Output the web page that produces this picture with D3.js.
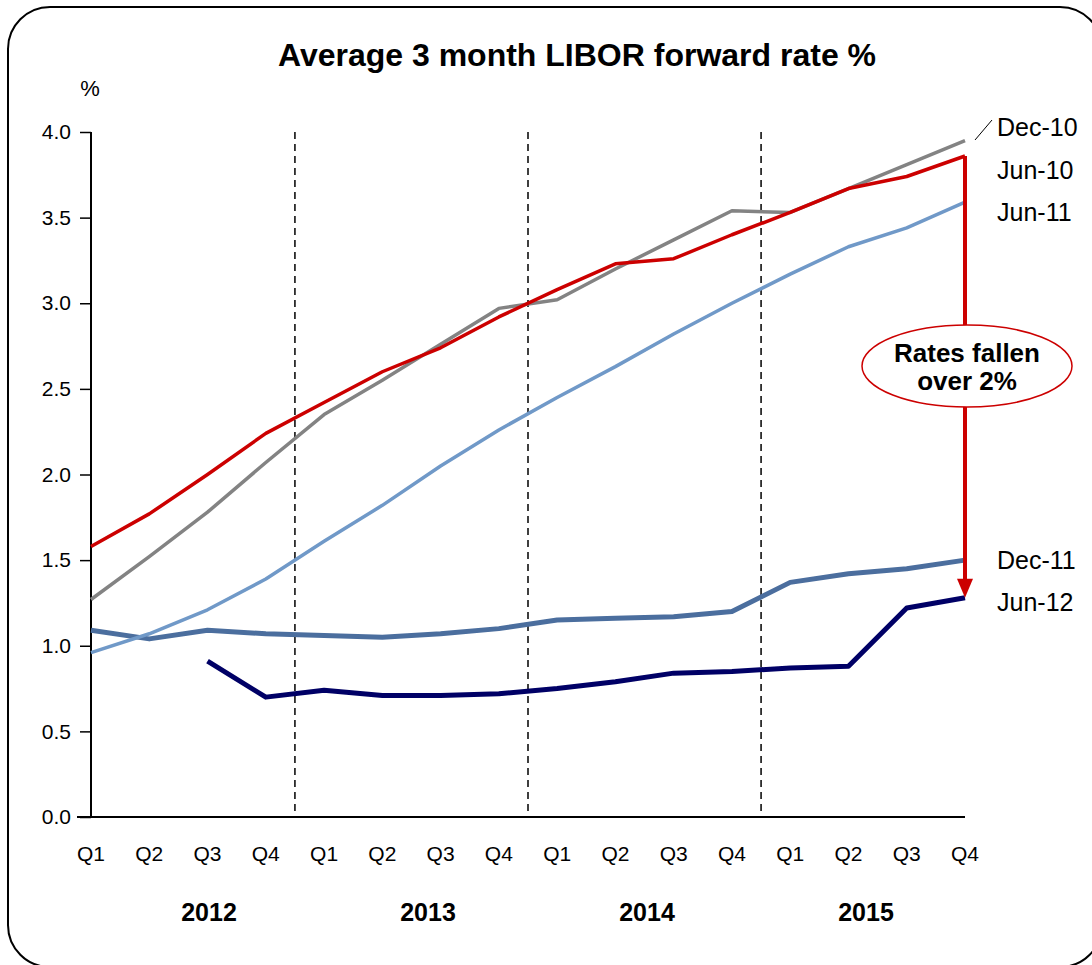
<!DOCTYPE html>
<html><head><meta charset="utf-8">
<script src="https://cdn.jsdelivr.net/npm/d3@7"></script>
<style>body{margin:0;background:#fff;}svg{display:block;font-family:Arial,"Liberation Sans",sans-serif;}</style>
</head><body>
<script>
const quarters = ["Q1","Q2","Q3","Q4","Q1","Q2","Q3","Q4","Q1","Q2","Q3","Q4","Q1","Q2","Q3","Q4"];
const years = ["2012","2013","2014","2015"];
const yTicks = [0,0.5,1,1.5,2,2.5,3,3.5,4];
const jun10 = [1.58,1.77,2.00,2.24,2.42,2.60,2.74,2.92,3.08,3.23,3.26,3.40,3.53,3.67,3.74,3.86];
const dec10 = [1.27,1.52,1.78,2.07,2.35,2.55,2.76,2.97,3.02,3.20,3.37,3.54,3.53,3.67,3.81,3.95];
const jun11 = [0.96,1.07,1.21,1.39,1.61,1.82,2.05,2.26,2.45,2.63,2.82,3.00,3.17,3.33,3.44,3.59];
const dec11 = [1.09,1.04,1.09,1.07,1.06,1.05,1.07,1.10,1.15,1.16,1.17,1.20,1.37,1.42,1.45,1.50];
const jun12 = [null,null,0.91,0.70,0.74,0.71,0.71,0.72,0.75,0.79,0.84,0.85,0.87,0.88,1.22,1.28];
const seriesNames = ["Dec-10","Jun-10","Jun-11","Dec-11","Jun-12"];

const W=1092,H=965;
const svg=d3.select("body").append("svg").attr("width",W).attr("height",H);
svg.append("rect").attr("x",8).attr("y",7).attr("width",1094).attr("height",960).attr("rx",42)
  .attr("fill","#fff").attr("stroke","#000").attr("stroke-width",2);

const x=d3.scaleLinear().domain([0,15]).range([91,965]);
const y=d3.scaleLinear().domain([0,4]).range([817,132]);
const xYear=d3.scalePoint().domain(years).range([209,866]);

svg.append("text").attr("x",577).attr("y",66).attr("text-anchor","middle")
  .attr("font-size",32).attr("font-weight","bold").text("Average 3 month LIBOR forward rate %");
svg.append("text").attr("x",90).attr("y",96).attr("text-anchor","middle").attr("font-size",22).text("%");

// y axis
const ya=svg.append("g").attr("transform","translate(91,0)")
  .call(d3.axisLeft(y).tickValues(yTicks).tickFormat(d3.format(".1f")).tickSize(11).tickPadding(9));
ya.attr("font-size",21).attr("font-family","Arial,'Liberation Sans',sans-serif");
ya.select(".domain").attr("stroke-width",2).attr("d","M0,"+y(4)+"V"+y(0));
ya.selectAll(".tick line").attr("stroke-width",1.5);
ya.selectAll("text").attr("fill","#000");

// x axis line
svg.append("line").attr("x1",77).attr("x2",965).attr("y1",y(0)).attr("y2",y(0)).attr("stroke","#000").attr("stroke-width",2);
svg.selectAll(".ql").data(quarters).enter().append("text")
  .attr("x",(d,i)=>x(i)).attr("y",861).attr("text-anchor","middle").attr("font-size",21).text(d=>d);
svg.selectAll(".yl").data(years).enter().append("text")
  .attr("x",d=>xYear(d)).attr("y",921).attr("text-anchor","middle").attr("font-size",25).attr("font-weight","bold").text(d=>d);

// dashed separators
[3.5,7.5,11.5].forEach(v=>{
  svg.append("line").attr("x1",x(v)).attr("x2",x(v)).attr("y1",y(4)).attr("y2",y(0))
    .attr("stroke","#000").attr("stroke-width",1.5).attr("stroke-dasharray","7,5");
});

const line=d3.line().defined(d=>d!=null).x((d,i)=>x(i)).y(d=>y(d));
const series=[
  {v:dec11,c:"#4B6E9E",w:5},
  {v:jun12,c:"#000066",w:5},
  {v:jun11,c:"#7099C8",w:3.5},
  {v:dec10,c:"#838383",w:3.5},
  {v:jun10,c:"#CC0000",w:3.5}
];
series.forEach(s=>{
  svg.append("path").attr("d",line(s.v)).attr("fill","none").attr("stroke",s.c)
    .attr("stroke-width",s.w).attr("stroke-linejoin","round");
});

// arrow
svg.append("line").attr("x1",x(15)).attr("x2",x(15)).attr("y1",y(jun10[15])).attr("y2",y(jun12[15])-18)
  .attr("stroke","#CC0000").attr("stroke-width",4);
svg.append("path").attr("d",`M${x(15)-8},${y(jun12[15])-19}L${x(15)+8},${y(jun12[15])-19}L${x(15)},${y(jun12[15])}Z`)
  .attr("fill","#CC0000");
svg.append("ellipse").attr("cx",967).attr("cy",366).attr("rx",105).attr("ry",41)
  .attr("fill","#fff").attr("stroke","#CC0000").attr("stroke-width",1.5);
svg.append("text").attr("x",967).attr("y",362).attr("text-anchor","middle").attr("font-size",26).attr("font-weight","bold").text("Rates fallen");
svg.append("text").attr("x",967).attr("y",390).attr("text-anchor","middle").attr("font-size",26).attr("font-weight","bold").text("over 2%");

// labels
const labY=[127,170,212,560,602];
svg.selectAll(".sl").data(seriesNames).enter().append("text")
  .attr("x",997).attr("y",(d,i)=>labY[i]+9).attr("font-size",25).text(d=>d);
svg.append("line").attr("x1",975).attr("y1",140).attr("x2",992).attr("y2",120).attr("stroke","#000").attr("stroke-width",1);
</script>
</body></html>
